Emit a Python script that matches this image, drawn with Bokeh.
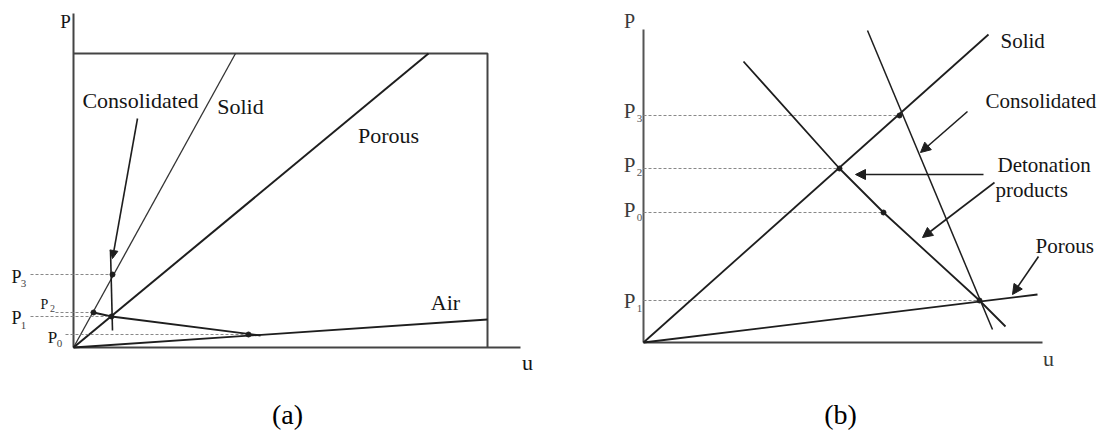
from bokeh.plotting import figure
from bokeh.layouts import row
from bokeh.models import Range1d, Arrow, NormalHead
from bokeh.core.properties import value
from bokeh.embed import file_html
from bokeh.resources import INLINE

FONT = "Liberation Serif"
INK = "#1e1e1e"
LABEL = "#151515"

# ---------------- Panel (a): values in (u, P) schematic units ----------------
A_AXIS_U_END = 447
A_AXIS_P_END = 334
A_BOX_U = 414
A_BOX_P = 294
A_SOLID_U = [0, 162]
A_SOLID_P = [0, 294]
A_POROUS_U = [0, 355]
A_POROUS_P = [0, 294]
A_AIR_U = [0, 414]
A_AIR_P = [0, 28]
A_REFL_U = [20, 38, 187]
A_REFL_P = [35, 31, 12]
A_CONS_U = [37, 39]
A_CONS_P = [97, 17]
A_STATE_NAMES = ["3", "2", "1", "0"]
A_STATE_U = [39, 20, 38, 175]
A_STATE_P = [73, 35, 31, 13]
A_DASH_START_U = [-43, -18, -43, -8]
A_TICK_P_U = [-57, -29, -57, -21]
A_TICK_P_P = [71, 43, 30, 10]
A_TICK_SUB_U = [-50, -21, -50, -14]
A_TICK_SUB_P = [64, 39, 22, 4]
A_TICK_SIZE = [18, 14, 18, 17]
A_TICK_SUB_SIZE = [11, 10, 11, 11]
A_LABELS = ["Consolidated", "Solid", "Porous", "Air"]
A_LABEL_U = [67, 167, 315, 372]
A_LABEL_P = [247, 241, 212, 45]
A_ARROW = [(64, 229, 39, 89)]

# ---------------- Panel (b) ----------------
B_AXIS_U_END = 399
B_AXIS_P_END = 313
B_SOLID_U = [0, 345]
B_SOLID_P = [0, 308]
B_POROUS_U = [0, 394]
B_POROUS_P = [0, 48]
B_DET_U = [100, 196, 240, 336, 362]
B_DET_P = [281, 174, 130, 42, 16]
B_CONS_U = [224, 349]
B_CONS_P = [312, 13]
B_STATE_NAMES = ["3", "2", "0", "1"]
B_STATE_U = [256, 196, 240, 336]
B_STATE_P = [227, 174, 130, 42]
B_TICK_P_U = [-14, -14, -14, -14]
B_TICK_P_P = [232, 178, 133, 42]
B_TICK_SUB_U = [-4, -4, -4, -4]
B_TICK_SUB_P = [224, 170, 125, 34]
B_LABELS = ["Solid", "Consolidated", "Detonation", "products", "Porous"]
B_LABEL_U = [357, 342, 354, 352, 392]
B_LABEL_P = [302, 242, 178, 153, 97]
B_ARROWS = [(324, 231, 277, 190), (340, 168, 212, 168), (351, 160, 279, 105), (395, 86, 369, 48)]


def make_fig(w, h, xr, yr):
    p = figure(width=w, height=h, x_range=Range1d(*xr), y_range=Range1d(*yr),
               toolbar_location=None, output_backend="svg", min_border=0,
               x_axis_location=None, y_axis_location=None)
    p.grid.visible = False
    p.outline_line_color = None
    p.background_fill_color = "white"
    p.border_fill_color = "white"
    return p


def txt(p, xs, ys, texts, size, align="center", color=LABEL):
    p.text(x=xs, y=ys, text=texts, text_font=value(FONT), text_font_size=value(f"{size}px"),
           text_align=align, text_baseline="middle", text_color=color)


def arrows(p, specs, size=9):
    for (x0, y0, x1, y1) in specs:
        p.add_layout(Arrow(x_start=x0, y_start=y0, x_end=x1, y_end=y1, line_color=INK, line_width=1.6,
                           end=NormalHead(size=size, fill_color=INK, line_color=INK)))


# ---------- build (a) ----------
pa = make_fig(558, 434, (-73, 485), (-87, 347))
pa.line([0, 0], [0, A_AXIS_P_END], line_color="#444", line_width=2)
pa.line([0, A_AXIS_U_END], [0, 0], line_color="#444", line_width=2)
pa.line([0, A_BOX_U, A_BOX_U], [A_BOX_P, A_BOX_P, 0], line_color="#444", line_width=2)
pa.line(A_SOLID_U, A_SOLID_P, line_color="#333", line_width=1.3)
pa.line(A_POROUS_U, A_POROUS_P, line_color=INK, line_width=2)
pa.line(A_AIR_U, A_AIR_P, line_color=INK, line_width=1.8)
pa.line(A_REFL_U, A_REFL_P, line_color=INK, line_width=1.8)
pa.line(A_CONS_U, A_CONS_P, line_color=INK, line_width=1.6)
for u0, u1, pv in zip(A_DASH_START_U, A_STATE_U, A_STATE_P):
    pa.line([u0, u1], [pv, pv], line_color="#888", line_width=1.1, line_dash="3 2")
pa.scatter(A_STATE_U, A_STATE_P, size=5, color=INK)
arrows(pa, A_ARROW, size=8)
for i in range(4):
    txt(pa, [A_TICK_P_U[i]], [A_TICK_P_P[i]], ["P"], A_TICK_SIZE[i])
    txt(pa, [A_TICK_SUB_U[i]], [A_TICK_SUB_P[i]], [A_STATE_NAMES[i]], A_TICK_SUB_SIZE[i], color="#444")
txt(pa, [-8], [326], ["P"], 19)
txt(pa, [454], [-15], ["u"], 22)
txt(pa, A_LABEL_U, A_LABEL_P, A_LABELS, 22)
txt(pa, [214], [-67], ["(a)"], 28, color="#000")

# ---------- build (b) ----------
pb = make_fig(543, 434, (-85, 458), (-92, 342))
pb.line([0, 0], [0, B_AXIS_P_END], line_color="#555", line_width=2)
pb.line([0, B_AXIS_U_END], [0, 0], line_color="#444", line_width=2)
for u1, pv in zip(B_STATE_U, B_STATE_P):
    pb.line([0, u1], [pv, pv], line_color="#888", line_width=1.1, line_dash="3 2")
pb.line(B_SOLID_U, B_SOLID_P, line_color=INK, line_width=1.8)
pb.line(B_POROUS_U, B_POROUS_P, line_color=INK, line_width=1.8)
pb.line(B_DET_U, B_DET_P, line_color=INK, line_width=1.8)
pb.line(B_CONS_U, B_CONS_P, line_color=INK, line_width=1.5)
pb.scatter(B_STATE_U, B_STATE_P, size=5, color=INK)
arrows(pb, B_ARROWS, size=10)
for i in range(4):
    txt(pb, [B_TICK_P_U[i]], [B_TICK_P_P[i]], ["P"], 21, color="#3a3a3a")
    txt(pb, [B_TICK_SUB_U[i]], [B_TICK_SUB_P[i]], [B_STATE_NAMES[i]], 11, color="#555")
txt(pb, [-14], [322], ["P"], 20, color="#3a3a3a")
txt(pb, [405], [-16], ["u"], 22, color="#3a3a3a")
txt(pb, B_LABEL_U, B_LABEL_P, B_LABELS, 21, align="left")
txt(pb, [197], [-72], ["(b)"], 28, color="#000")

layout = row(pa, pb)
open("out.html", "w").write(file_html(layout, INLINE))
